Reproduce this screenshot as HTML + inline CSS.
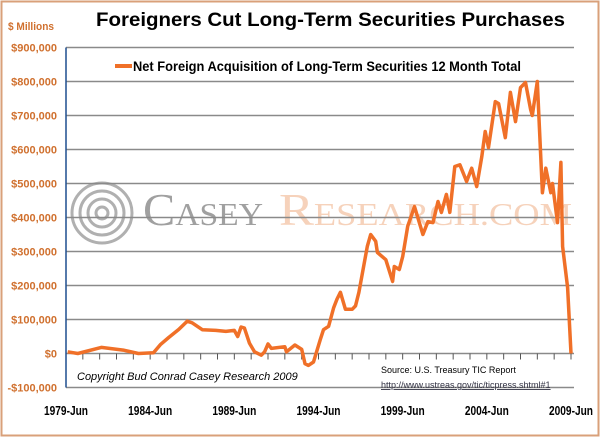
<!DOCTYPE html>
<html><head><meta charset="utf-8"><style>
html,body{margin:0;padding:0;background:#fff}
svg{display:block;font-family:"Liberation Sans",sans-serif}
</style></head><body>
<svg width="600" height="437" viewBox="0 0 600 437">
<rect x="1.5" y="1.5" width="597" height="434" fill="#fff" stroke="#d9a07a" stroke-width="2"/>
<text x="96" y="26" font-size="19" font-weight="bold" textLength="469" lengthAdjust="spacingAndGlyphs">Foreigners Cut Long-Term Securities Purchases</text>
<text x="8" y="30" font-size="11" font-weight="bold" fill="#d0702e" textLength="46" lengthAdjust="spacingAndGlyphs">$ Millions</text>
<g id="watermark">
<circle cx="102" cy="213" r="30" fill="none" stroke="#b0b0b0" stroke-width="3"/>
<circle cx="102" cy="213" r="22" fill="none" stroke="#b0b0b0" stroke-width="3"/>
<circle cx="102" cy="213" r="14" fill="none" stroke="#b0b0b0" stroke-width="3"/>
<circle cx="102" cy="213" r="6" fill="none" stroke="#b0b0b0" stroke-width="3"/>
<text x="143" y="225" font-family="Liberation Serif,serif" fill="#a0a0a0" textLength="120" lengthAdjust="spacingAndGlyphs"><tspan font-size="46">C</tspan><tspan font-size="32">ASEY</tspan></text>
<text x="279" y="225" font-family="Liberation Serif,serif" fill="#f6d2bb" textLength="293" lengthAdjust="spacingAndGlyphs"><tspan font-size="46">R</tspan><tspan font-size="32">ESEARCH.COM</tspan></text>
</g>
<g id="grid"></g>
<g id="axes"></g>
<g>
<line x1="115" y1="66" x2="132" y2="66" stroke="#f07028" stroke-width="4"/>
<text x="133" y="71" font-size="14" font-weight="bold" textLength="388" lengthAdjust="spacingAndGlyphs">Net Foreign Acquisition of Long-Term Securities 12 Month Total</text>
</g>
<path id="series" fill="none" stroke="#f07028" stroke-width="3.5" stroke-linejoin="round"/>
<text x="77" y="380" font-size="11" font-style="italic">Copyright Bud Conrad Casey Research 2009</text>
<text x="381" y="373" font-size="9">Source: U.S. Treasury  TIC Report</text>
<text x="381" y="388" font-size="9" fill="#334" text-decoration="underline">http://www.ustreas.gov/tic/ticpress.shtml#1</text>
</svg>
<script>
const yTicks=[900000,800000,700000,600000,500000,400000,300000,200000,100000,0,-100000];
const yTickLabels=["$900,000","$800,000","$700,000","$600,000","$500,000","$400,000","$300,000","$200,000","$100,000","$0","-$100,000"];
const xTicks=[1979.5,1984.5,1989.5,1994.5,1999.5,2004.5,2009.5];
const xTickLabels=["1979-Jun","1984-Jun","1989-Jun","1994-Jun","1999-Jun","2004-Jun","2009-Jun"];
const dates=[1979.6,1980.2,1981.6,1982.9,1983.8,1984.7,1985.1,1985.6,1986.2,1986.7,1987.0,1987.6,1988.4,1989.0,1989.5,1989.7,1989.9,1990.1,1990.4,1990.7,1991.1,1991.3,1991.5,1991.7,1992.5,1992.6,1993.1,1993.5,1993.7,1993.9,1994.2,1994.6,1994.8,1995.1,1995.4,1995.6,1995.8,1996.1,1996.5,1996.7,1996.9,1997.4,1997.6,1997.9,1998.0,1998.5,1998.9,1999.0,1999.3,1999.5,1999.8,2000.2,2000.7,2001.0,2001.3,2001.6,2001.8,2002.1,2002.3,2002.6,2002.9,2003.3,2003.6,2003.9,2004.2,2004.4,2004.6,2005.0,2005.2,2005.6,2005.9,2006.2,2006.5,2006.8,2007.1,2007.2,2007.5,2007.8,2008.0,2008.3,2008.4,2008.7,2008.9,2009.0,2009.3,2009.5];
const values=[5,0,18,10,0,2,26,47,71,95,90,70,68,65,68,50,78,75,30,5,-5,5,28,15,20,5,25,12,-30,-35,-25,40,70,80,135,160,180,130,130,140,180,315,350,330,297,276,212,256,247,285,374,432,350,388,385,447,415,468,415,550,555,506,545,491,579,653,606,741,735,635,768,682,782,797,718,700,800,473,545,473,500,385,562,315,194,0];
const X0=66,X1=571,Y0=353.5,PPK=0.34;
const xs=t=>X0+(t-1979.5)*(X1-X0)/30;
const ys=v=>Y0-v/1000*PPK;
const NS="http://www.w3.org/2000/svg";
const grid=document.getElementById('grid'),axes=document.getElementById('axes');
function mk(tag,attrs,parent){const e=document.createElementNS(NS,tag);for(const k in attrs)e.setAttribute(k,attrs[k]);parent.appendChild(e);return e;}
yTicks.forEach((v,i)=>{
  const g=mk('line',{x1:X0,x2:574,y1:ys(v),y2:ys(v),stroke:'#8a8a8a','stroke-width':1.5},grid);
  
  
  const t=mk('text',{x:57,y:ys(v)+4,'font-size':11,'font-weight':'bold',fill:'#d0702e','text-anchor':'end'},axes);
  t.textContent=yTickLabels[i];
  
  
});
const ax=mk('line',{x1:X0,x2:X0,y1:ys(900000),y2:ys(-100000),stroke:'#1f4f8f','stroke-width':1.5},axes);


for(let yr=1980.5;yr<2009.6;yr+=1){
  const tk=mk('line',{x1:xs(yr),x2:xs(yr),y1:Y0,y2:Y0+6,stroke:'#555','stroke-width':1},axes);
  
  
}
xTicks.forEach((t,i)=>{
  const l=mk('text',{x:xs(t),y:415,'font-size':13,'font-weight':'bold','text-anchor':'middle',textLength:44,lengthAdjust:'spacingAndGlyphs'},axes);
  l.textContent=xTickLabels[i];
  
  
});
document.getElementById('series').setAttribute('d',dates.map((t,i)=>(i?'L':'M')+xs(t).toFixed(1)+','+ys(values[i]*1000).toFixed(1)).join(''));
</script>
</body></html>
